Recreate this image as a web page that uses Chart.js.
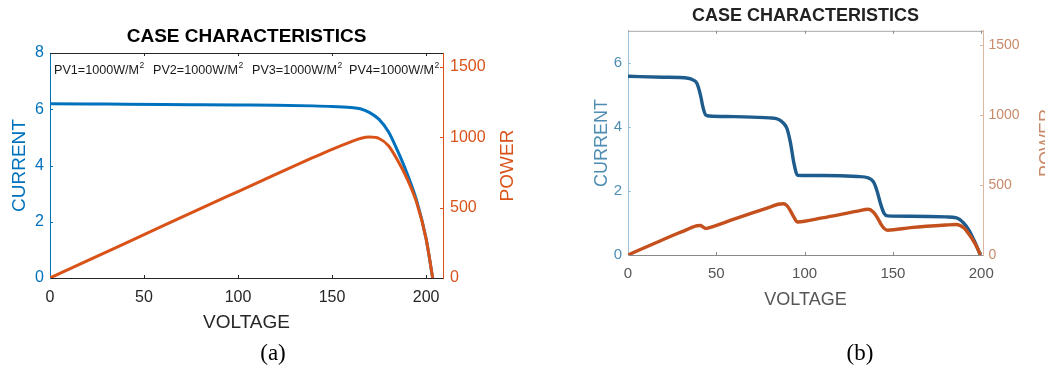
<!DOCTYPE html>
<html><head><meta charset="utf-8">
<script src="https://cdn.jsdelivr.net/npm/chart.js@4.4.0/dist/chart.umd.min.js"></script>
<style>
html,body{margin:0;padding:0;background:#fff;}
body{width:1045px;height:367px;position:relative;overflow:hidden;}
#ca{position:absolute;left:0;top:0;}
#cb{position:absolute;left:560px;top:0;}
.cap{position:absolute;font-family:"Liberation Serif","Times New Roman",serif;font-size:23px;line-height:24px;color:#000;transform:translateX(-50%);white-space:nowrap;}
</style></head><body>
<canvas id="ca" width="520" height="345"></canvas>
<canvas id="cb" width="485" height="345"></canvas>
<div class="cap" style="left:273px;top:341px;">(a)</div>
<div class="cap" style="left:860px;top:341px;">(b)</div>
<script>
// ---------- Data (a): uniform irradiance ----------
const voltageA = [0, 20, 40, 60, 80, 100, 120, 140, 150, 160, 165, 170, 175, 180, 185, 190, 195, 200, 203.5];
const currentA = [6.20, 6.19, 6.18, 6.17, 6.16, 6.15, 6.14, 6.12, 6.10, 6.06, 6.02, 5.88, 5.64, 5.20, 4.50, 3.70, 2.75, 1.40, 0];
const powerA   = [0, 124, 247, 370, 493, 615, 737, 857, 915, 968, 992, 1002, 992, 940, 833, 703, 536, 280, 0];
const xTicksA = [0, 50, 100, 150, 200];
const yLeftTicksA = [0, 2, 4, 6, 8];
const yRightTicksA = [0, 500, 1000, 1500];
const irradianceLabels = ['PV1=1000W/M', 'PV2=1000W/M', 'PV3=1000W/M', 'PV4=1000W/M'];

// ---------- Data (b): partial shading ----------
const voltageB = [0, 20, 34, 37, 39, 41, 42.5, 44, 46, 60, 80, 85, 88, 90, 92, 94, 96, 110, 130, 136, 139, 141, 143, 145, 147, 160, 180, 186, 190, 193, 196, 198, 199.5];
const currentB = [5.58, 5.55, 5.52, 5.46, 5.36, 5.00, 4.60, 4.37, 4.34, 4.32, 4.28, 4.24, 4.12, 3.95, 3.50, 2.85, 2.49, 2.48, 2.45, 2.41, 2.28, 2.00, 1.60, 1.30, 1.22, 1.21, 1.19, 1.16, 1.00, 0.78, 0.45, 0.20, 0];
const powerB   = [0, 111, 185, 201, 209, 211, 200, 190, 195, 256, 340, 362, 366, 352, 315, 268, 236, 265, 313, 326, 305, 270, 225, 190, 177, 195, 214, 218, 195, 150, 92, 45, 0];
const xTicksB = [0, 50, 100, 150, 200];
const yLeftTicksB = [0, 2, 4, 6];
const yRightTicksB = [0, 500, 1000, 1500];

const FONT = '"Liberation Sans", Arial, Helvetica, sans-serif';
Chart.defaults.font.family = FONT;

function pts(xs, ys) { return xs.map((x, i) => ({ x: x, y: ys[i] })); }
function setTicks(arr) { return s => { s.ticks = arr.map(v => ({ value: v })); }; }

const framePlugin = {
  id: 'frame',
  afterDraw(chart, args, o) {
    const { ctx, chartArea: a, scales } = chart;
    ctx.save();
    ctx.lineWidth = 1;
    ctx.strokeStyle = o.topColor;
    ctx.beginPath(); ctx.moveTo(a.left, a.top + 0.5); ctx.lineTo(a.right, a.top + 0.5); ctx.stroke();
    const tl = o.tickLen;
    ctx.strokeStyle = o.xColor;
    scales.x.ticks.forEach(t => {
      const px = Math.round(scales.x.getPixelForValue(t.value)) + 0.5;
      if (px <= a.left + 1 || px >= a.right - 1) return;
      ctx.beginPath();
      ctx.moveTo(px, a.bottom); ctx.lineTo(px, a.bottom - tl);
      ctx.moveTo(px, a.top); ctx.lineTo(px, a.top + tl);
      ctx.stroke();
    });
    ctx.strokeStyle = o.lColor;
    scales.yL.ticks.forEach(t => {
      const py = Math.round(scales.yL.getPixelForValue(t.value)) + 0.5;
      if (py >= a.bottom - 1 || py <= a.top + 1) return;
      ctx.beginPath(); ctx.moveTo(a.left, py); ctx.lineTo(a.left + tl, py); ctx.stroke();
    });
    ctx.strokeStyle = o.rColor;
    scales.yR.ticks.forEach(t => {
      const py = Math.round(scales.yR.getPixelForValue(t.value)) + 0.5;
      if (py >= a.bottom - 1 || py <= a.top + 1) return;
      ctx.beginPath(); ctx.moveTo(a.right, py); ctx.lineTo(a.right - tl, py); ctx.stroke();
    });
    ctx.translate(o.rTitleX, (a.top + a.bottom) / 2);
    ctx.rotate(-Math.PI / 2);
    ctx.fillStyle = o.rColorText;
    ctx.font = o.rTitleSize + 'px ' + FONT;
    ctx.textAlign = 'center'; ctx.textBaseline = 'middle';
    ctx.fillText(o.rTitle, 0, 0);
    ctx.restore();
    if (o.notes) {
      ctx.save();
      ctx.fillStyle = '#1a1a1a';
      ctx.textBaseline = 'alphabetic'; ctx.textAlign = 'left';
      o.notes.forEach((txt, i) => {
        const x = a.left + o.noteOffsets[i];
        const y = o.noteBaseline;
        ctx.font = '12.6px ' + FONT;
        ctx.fillText(txt, x, y);
        const w = ctx.measureText(txt).width;
        ctx.font = '8.5px ' + FONT;
        ctx.fillText('2', x + w + 0.5, y - 6);
      });
      ctx.restore();
    }
  }
};

function makeChart(id, cfg) {
  return new Chart(document.getElementById(id), {
    type: 'line',
    data: {
      datasets: [
        { label: 'CURRENT', data: pts(cfg.v, cfg.i), yAxisID: 'yL', borderColor: cfg.blueLine, borderWidth: cfg.lw, pointRadius: 0, cubicInterpolationMode: 'monotone', fill: false, order: 2 },
        { label: 'POWER', data: pts(cfg.v, cfg.p), yAxisID: 'yR', borderColor: cfg.orangeLine, borderWidth: cfg.lw, pointRadius: 0, cubicInterpolationMode: 'monotone', fill: false, order: 1 }
      ]
    },
    options: {
      responsive: false, animation: false, devicePixelRatio: 1,
      layout: { padding: 0 },
      plugins: {
        legend: { display: false }, tooltip: { enabled: false },
        title: { display: true, fullSize: false, text: 'CASE CHARACTERISTICS', color: cfg.titleColor,
                 font: { size: cfg.titleSize, weight: 'bold', family: FONT, lineHeight: 1.2 },
                 padding: { top: cfg.titlePadTop, bottom: cfg.titlePadBottom } },
        frame: cfg.frame
      },
      scales: {
        x: { type: 'linear', position: 'bottom', min: 0, max: cfg.xMax,
             afterBuildTicks: setTicks(cfg.xTicks),
             ticks: { font: { size: cfg.tickSize }, color: cfg.xColor, padding: cfg.xTickPad, maxRotation: 0, autoSkip: false, callback: v => String(v) },
             grid: { display: false, drawTicks: false },
             border: { display: true, color: cfg.xAxisColor, width: 1 },
             title: { display: true, text: 'VOLTAGE', color: cfg.xColor, font: { size: cfg.axTitleSize, lineHeight: 1.2 }, padding: { top: 0, bottom: cfg.xTitlePad } },
             afterFit: s => { s.height = cfg.xH; } },
        yL: { type: 'linear', position: 'left', min: 0, max: cfg.yLMax,
              afterBuildTicks: setTicks(cfg.yLTicks),
              ticks: { font: { size: cfg.tickSize }, color: cfg.lText, padding: cfg.yTickPad, callback: v => String(v) },
              grid: { display: false, drawTicks: false },
              border: { display: true, color: cfg.lAxis, width: 1 },
              title: { display: true, text: 'CURRENT', color: cfg.lText, font: { size: cfg.axTitleSize, lineHeight: 1.2 }, padding: { top: cfg.lTitlePad, bottom: 0 } },
              afterFit: s => { s.width = cfg.lW; } },
        yR: { type: 'linear', position: 'right', min: 0, max: 1600,
              afterBuildTicks: setTicks(cfg.yRTicks),
              ticks: { font: { size: cfg.rTickSize }, color: cfg.rText, padding: cfg.rTickPad, callback: v => String(v) },
              grid: { display: false, drawTicks: false },
              border: { display: true, color: cfg.rAxis, width: 1 },
              afterFit: s => { s.width = cfg.rW; } }
      }
    },
    plugins: [framePlugin]
  });
}

makeChart('ca', {
  v: voltageA, i: currentA, p: powerA, lw: 3,
  blueLine: '#0072BD', orangeLine: '#D95319',
  titleColor: '#000', titleSize: 19, titlePadTop: 25.6, titlePadBottom: 4.6,
  xMax: 209, xTicks: xTicksA, tickSize: 16, rTickSize: 16, xColor: '#262626', xAxisColor: '#262626', xTickPad: 10,
  axTitleSize: 19, xTitlePad: 10.6, xH: 67,
  yLMax: 8, yLTicks: yLeftTicksA, lText: '#0072BD', lAxis: '#0072BD', yTickPad: 6, lTitlePad: 8.6, lW: 50,
  yRTicks: yRightTicksA, rText: '#D95319', rAxis: '#D95319', rTickPad: 7, rW: 77,
  frame: { topColor: '#262626', xColor: '#262626', lColor: '#0072BD', rColor: '#D95319', rColorText: '#D95319', tickLen: 3,
           rTitle: 'POWER', rTitleX: 508, rTitleSize: 19,
           notes: irradianceLabels, noteOffsets: [4, 103, 202, 299], noteBaseline: 74 }
});

makeChart('cb', {
  v: voltageB, i: currentB, p: powerB, lw: 3.4,
  blueLine: '#1d5c8c', orangeLine: '#c4501d',
  titleColor: '#222', titleSize: 18, titlePadTop: 5, titlePadBottom: 4.2,
  xMax: 201, xTicks: xTicksB, tickSize: 15, rTickSize: 14, xColor: '#555', xAxisColor: '#8a8a8a', xTickPad: 10,
  axTitleSize: 18, xTitlePad: 34.2, xH: 90,
  yLMax: 7, yLTicks: yLeftTicksB, lText: '#4f8db3', lAxis: '#9cc0d8', yTickPad: 6, lTitlePad: 30.9, lW: 68,
  yRTicks: yRightTicksB, rText: '#c98a6b', rAxis: '#dfb7a0', rTickPad: 5.5, rW: 62,
  frame: { topColor: '#a8a8a8', xColor: '#8a8a8a', lColor: '#9cc0d8', rColor: '#dfb7a0', rColorText: '#c98a6b', tickLen: 3,
           rTitle: 'POWER', rTitleX: 487, rTitleSize: 18 }
});
</script>
</body></html>
